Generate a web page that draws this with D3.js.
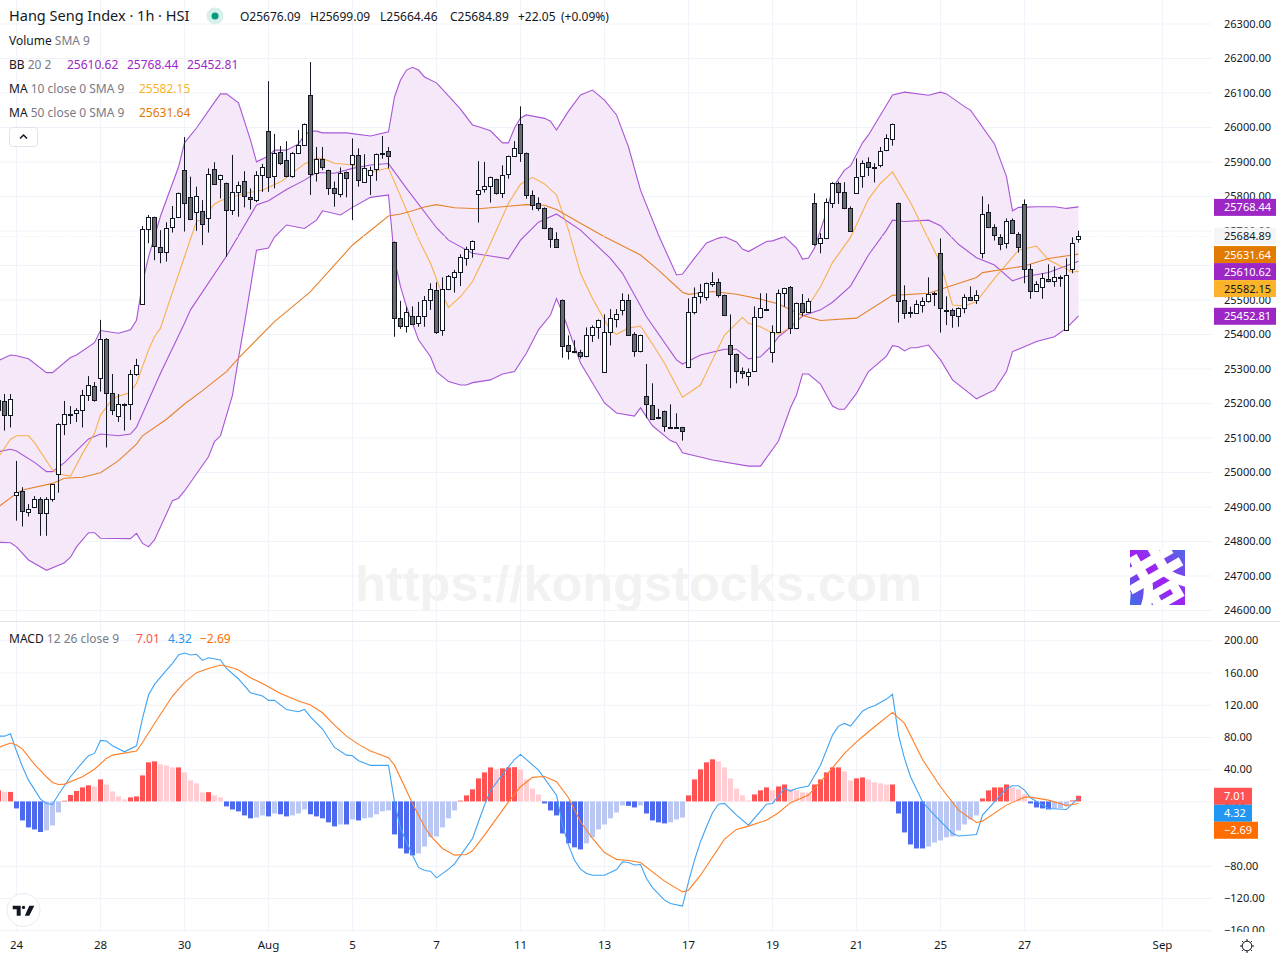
<!DOCTYPE html>
<html>
<head>
<meta charset="utf-8">
<title>Hang Seng Index 1h</title>
<script src="https://cdn.jsdelivr.net/npm/d3@7/dist/d3.min.js"></script>
<style>
  body { margin: 0; background: #fff; }
  svg { display: block; }
  text { font-family: "Noto Sans", sans-serif; }
  .grid line { stroke: #f0f3fa; stroke-width: 1; }
  .grid path { display: none; }
  .grid text { display: none; }
  .axis path, .axis line { display: none; }
  .axis text { fill: #131722; font-size: 11px; font-family: "Noto Sans", sans-serif; }
  .axis.time text { font-size: 11.5px; }
</style>
</head>
<body>
<svg id="chart" width="1280" height="960"></svg>

<script>
// candles, bar 0 is the "24" tick, first visible bar is -3
var firstBar = -3;
var opens = [
  25209,25205,25164,24932,24944,24883,24898,24921,24880,24921,
  24993,25138,25167,25170,25179,25222,25248,25272,25385,25228,
  25161,25198,25196,25283,25486,25703,25738,25651,25637,25709,
  25738,25874,25796,25753,25756,25735,25877,25848,25837,25758,
  25811,25843,25796,25787,25860,25987,25857,25927,25903,25857,
  25924,25947,26092,25866,25906,25874,25822,25805,25869,25892,
  25918,25842,25860,25877,25926,25929,25666,25445,25422,25451,
  25431,25451,25500,25527,25411,25529,25564,25579,25619,25645,
  25805,25819,25828,25848,25808,25863,25915,26009,25924,25802,
  25779,25764,25706,25674,25498,25367,25352,25347,25335,25396,
  25419,25289,25405,25443,25469,25500,25399,25350,25219,25193,
  25158,25176,25131,25131,25129,25303,25463,25509,25506,25544,
  25550,25512,25367,25341,25292,25277,25292,25448,25472,25347,
  25405,25518,25535,25416,25489,25463,25779,25663,25677,25779,
  25837,25811,25764,25808,25857,25898,25885,25889,25932,25964,
  25779,25500,25465,25460,25483,25495,25518,25634,25470,25469,
  25451,25474,25506,25498,25634,25753,25709,25680,25663,25729,
  25689,25776,25587,25524,25535,25558,25553,25566,25411,25587,
  25676.09];
var highs = [
  25217,25226,25226,25032,24956,24907,24930,24927,24927,24964,
  25141,25206,25191,25185,25238,25278,25261,25441,25388,25284,
  25226,25199,25296,25328,25713,25745,25740,25701,25724,25771,
  25810,25971,25856,25827,25788,25880,25898,25862,25839,25919,
  25842,25872,25822,25872,25893,26133,25980,25945,25959,25927,
  25991,26010,26188,25942,25942,25876,25842,25883,25871,25967,
  25938,25921,25885,25923,25974,25942,25668,25496,25479,25480,
  25493,25510,25547,25550,25564,25571,25586,25631,25653,25671,
  25901,25899,25856,25850,25889,25917,25959,26060,25926,25816,
  25796,25767,25709,25695,25500,25396,25382,25354,25419,25425,
  25442,25457,25472,25472,25518,25515,25405,25398,25313,25257,
  25183,25178,25196,25170,25131,25503,25535,25545,25549,25579,
  25561,25514,25457,25343,25303,25300,25480,25518,25518,25425,
  25529,25534,25539,25491,25516,25503,25808,25692,25793,25840,
  25842,25840,25770,25909,25903,25912,25895,25942,25979,26010,
  25781,25541,25479,25498,25506,25564,25522,25677,25509,25474,
  25477,25515,25538,25527,25799,25776,25718,25689,25735,25735,
  25695,25790,25602,25553,25576,25602,25596,25570,25619,25680,
  25699.09];
var lows = [
  25151,25120,25129,24859,24842,24871,24898,24815,24815,24914,
  24940,25107,25139,25145,25129,25206,25204,25233,25071,25165,
  25145,25120,25151,25279,25484,25663,25614,25605,25610,25694,
  25736,25697,25730,25699,25658,25694,25832,25793,25624,25745,
  25740,25767,25761,25782,25812,25812,25822,25890,25854,25853,
  25922,25945,25803,25842,25875,25803,25769,25796,25796,25730,
  25827,25840,25803,25844,25908,25880,25392,25415,25404,25426,
  25421,25421,25470,25400,25395,25527,25520,25539,25598,25621,
  25723,25810,25781,25804,25794,25850,25913,25899,25792,25759,
  25757,25704,25650,25650,25331,25326,25344,25329,25333,25377,
  25386,25287,25367,25419,25454,25394,25334,25347,25156,25151,
  25153,25117,25129,25129,25091,25301,25457,25488,25497,25537,
  25506,25452,25243,25257,25271,25250,25290,25445,25468,25317,
  25403,25479,25400,25414,25452,25461,25656,25634,25675,25765,
  25777,25762,25696,25806,25824,25858,25839,25883,25930,25946,
  25433,25444,25447,25458,25462,25491,25481,25404,25426,25418,
  25421,25460,25496,25487,25619,25707,25671,25643,25648,25690,
  25636,25547,25502,25522,25502,25550,25537,25537,25409,25576,
  25664.46];
var closes = [
  25180,25166,25211,24943,24886,24892,24921,24880,24921,24964,
  25138,25167,25168,25179,25222,25251,25208,25385,25228,25179,
  25196,25197,25283,25309,25703,25738,25656,25637,25706,25735,
  25808,25779,25732,25799,25718,25863,25834,25860,25758,25811,
  25831,25799,25791,25860,25883,25854,25924,25895,25857,25924,
  25947,26008,25863,25906,25883,25822,25808,25866,25851,25918,
  25845,25880,25874,25921,25925,25915,25445,25422,25463,25428,
  25451,25500,25529,25407,25529,25567,25579,25622,25645,25669,
  25816,25828,25854,25808,25860,25915,25938,25924,25802,25773,
  25764,25706,25674,25651,25364,25350,25351,25335,25396,25419,
  25440,25405,25445,25457,25500,25396,25350,25396,25196,25153,
  25157,25132,25130,25130,25118,25463,25506,25521,25547,25550,
  25512,25454,25341,25292,25286,25289,25448,25474,25471,25405,
  25518,25532,25416,25489,25463,25495,25660,25677,25784,25837,
  25813,25764,25698,25854,25895,25883,25884,25929,25967,26008,
  25495,25460,25464,25486,25495,25515,25517,25474,25469,25454,
  25474,25506,25498,25512,25747,25709,25686,25660,25727,25692,
  25651,25587,25524,25544,25561,25553,25564,25565,25570,25663,
  25684.89];

// indicator lines: [bar, value]
var bbUpper = [[-3,25323],[-1,25339],[0,25337],[2,25328],[5,25288],[6,25288],[9,25332],[10,25339],[13,25375],[14,25410],[17,25402],[19,25412],[20,25440],[21,25548],[22,25623],[24,25742],[27,25884],[28,25954],[30,25997],[33,26072],[34,26096],[35,26096],[37,26070],[39,25962],[40,25899],[42,25916],[43,25933],[45,25933],[47,25951],[48,25977],[49,25988],[50,25988],[51,25983],[55,25983],[59,25974],[62,25986],[63,26087],[64,26136],[65,26165],[66,26173],[67,26165],[68,26145],[70,26128],[72,26090],[74,26052],[76,26006],[77,26001],[79,25989],[81,25954],[82,25954],[83,25997],[84,26026],[85,26035],[88,26025],[89,26017],[90,25991],[92,26046],[94,26093],[96,26107],[98,26078],[100,26035],[102,25942],[104,25817],[107,25687],[110,25571],[111,25574],[113,25620],[115,25664],[117,25678],[118,25682],[120,25667],[121,25646],[122,25639],[125,25668],[126,25670],[128,25682],[130,25649],[131,25617],[132,25620],[133,25649],[135,25754],[136,25823],[138,25875],[139,25887],[141,25954],[142,25977],[146,26093],[148,26101],[152,26092],[154,26101],[155,26096],[158,26059],[159,26049],[163,25951],[165,25856],[166,25757],[167,25767],[170,25769],[173,25769],[175,25764],[177,25768.44]];
var bbLower = [[-3,24796],[-1,24795],[0,24783],[2,24745],[5,24715],[8,24737],[9,24753],[10,24783],[12,24824],[13,24824],[14,24808],[19,24807],[20,24822],[21,24793],[22,24783],[23,24803],[26,24917],[27,24924],[28,24945],[32,25044],[33,25088],[34,25105],[36,25223],[37,25330],[38,25431],[39,25536],[40,25643],[42,25649],[43,25681],[45,25716],[48,25706],[50,25730],[51,25757],[54,25745],[56,25767],[59,25796],[62,25803],[63,25615],[64,25537],[65,25479],[67,25383],[69,25334],[70,25291],[72,25262],[74,25252],[75,25252],[76,25259],[79,25267],[81,25284],[83,25291],[85,25345],[87,25412],[89,25455],[90,25503],[91,25461],[94,25316],[98,25200],[100,25171],[103,25162],[104,25186],[106,25134],[109,25091],[110,25084],[111,25056],[116,25035],[122,25017],[124,25017],[127,25090],[129,25186],[130,25223],[131,25284],[132,25284],[134,25255],[136,25191],[137,25182],[138,25182],[140,25228],[142,25291],[145,25336],[146,25366],[147,25363],[148,25351],[149,25360],[150,25360],[152,25368],[154,25325],[156,25267],[160,25212],[163,25238],[165,25291],[166,25349],[167,25356],[170,25378],[173,25392],[175,25417],[177,25452.81]];
var bbBasis = [[-3,25059],[-1,25066],[0,25061],[3,25028],[5,25001],[6,25001],[8,25027],[12,25096],[14,25110],[17,25105],[19,25110],[20,25130],[24,25286],[28,25431],[29,25470],[35,25626],[40,25774],[42,25786],[45,25819],[48,25846],[50,25868],[53,25866],[56,25880],[59,25890],[62,25894],[65,25822],[70,25708],[72,25672],[76,25634],[79,25626],[82,25618],[84,25672],[87,25724],[90,25748],[94,25701],[99,25619],[101,25576],[105,25450],[110,25325],[111,25313],[114,25339],[118,25356],[120,25356],[122,25328],[124,25334],[126,25368],[127,25392],[129,25419],[131,25452],[134,25470],[136,25492],[139,25539],[142,25629],[145,25701],[146,25730],[148,25726],[152,25730],[154,25714],[157,25660],[160,25621],[163,25600],[166,25554],[168,25566],[172,25578],[177,25610.62]];
var ma10 = [[-3,25044],[-1,25095],[0,25105],[2,25105],[3,25085],[6,25006],[7,24994],[9,24988],[11,25054],[13,25112],[14,25165],[16,25212],[17,25220],[19,25230],[20,25257],[22,25354],[23,25392],[24,25417],[25,25470],[28,25624],[30,25726],[31,25732],[33,25777],[34,25786],[36,25798],[39,25811],[41,25817],[44,25841],[47,25880],[48,25893],[50,25909],[51,25909],[53,25895],[56,25890],[59,25869],[62,25881],[65,25759],[67,25675],[69,25605],[71,25513],[72,25477],[74,25508],[76,25552],[78,25624],[82,25779],[84,25834],[86,25854],[88,25835],[90,25803],[92,25701],[94,25576],[96,25503],[99,25410],[100,25399],[102,25417],[104,25423],[106,25371],[108,25315],[111,25217],[114,25252],[116,25325],[118,25397],[121,25448],[122,25431],[124,25421],[126,25402],[127,25400],[129,25419],[131,25455],[134,25537],[136,25607],[139,25680],[142,25791],[144,25837],[146,25870],[149,25781],[151,25711],[154,25605],[156,25484],[158,25481],[160,25494],[163,25561],[167,25643],[170,25655],[172,25615],[176,25579],[177,25582.15]];
var ma50 = [[-3,24899],[0,24938],[1,24948],[6,24967],[8,24982],[11,24985],[14,24998],[17,25033],[20,25081],[21,25105],[25,25153],[28,25197],[31,25236],[35,25291],[37,25330],[43,25436],[49,25523],[56,25658],[62,25742],[64,25748],[66,25757],[68,25768],[70,25775],[73,25766],[77,25763],[81,25769],[85,25775],[88,25773],[90,25761],[94,25721],[98,25682],[104,25629],[107,25585],[111,25521],[112,25515],[116,25523],[120,25515],[124,25501],[127,25487],[131,25454],[134,25439],[140,25446],[146,25512],[152,25518],[160,25564],[161,25578],[168,25597],[172,25619],[177,25631.64]];

// macd pane
var macdHist = [
  13.7,11.6,11.8,-8.7,-23.6,-32.3,-34.8,-38,-36,-29.8,
  -13.7,0.8,8,13,17.4,20,18.6,27.3,21,12.4,
  6.2,2.5,5,6.2,32.3,48.5,49.7,46,44.7,42.2,
  42.2,36,26,22.4,11.2,11.5,7.5,5,-6.2,-10,
  -12.4,-17.4,-21,-20,-17.4,-18.6,-15,-16,-18.6,-17.4,
  -15,-10,-16,-18.6,-21,-26,-31,-28.6,-28.6,-22.4,
  -23.6,-21,-20,-16,-12.4,-11.2,-41,-58.4,-64.6,-67,
  -64.6,-56,-44.3,-43.5,-32.3,-21,-11.2,1,7.5,15,
  28.6,36,42.2,39.8,41,42.2,42.5,39.8,27.3,16,
  8.7,-2.5,-11.2,-17.4,-39.8,-52,-57,-59.6,-52,-44.7,
  -34.8,-28.6,-21,-13.7,-5,-5.5,-7.5,-5,-15,-23.6,
  -26,-27.3,-26,-22.4,-20,7.5,27.3,39.8,48.5,52.2,
  49.7,42.2,28.6,16,7.5,1.2,8.7,13.7,17.4,13.7,
  18.6,21,15,13.7,11.2,10.9,21,27.3,36,42.2,
  42.2,37.3,26,28.6,29.8,27.3,23.6,22.4,21,21,
  -15,-38.5,-53.4,-58.4,-58.4,-56,-51,-48.5,-44.7,-43.5,
  -36,-28.6,-22.4,-17.4,3.7,13.7,17.4,17.4,21,17.4,
  15,8.7,-2.5,-7.5,-8.7,-10,-8.7,-8.4,-6.2,1.2,
  7.01];
var macdLine = [[-3,81],[-2,81],[-1,84],[0,62.5],[1,43],[2,26.4],[4,2.8],[5,-2.5],[6,-3.8],[7,8.6],[9,30.6],[11,48.4],[12,56.7],[13,59.6],[14,75.7],[15,74.9],[16,69],[18,61.6],[20,69],[21,103],[22,132],[23,145.3],[25,163],[26,171.4],[27,181.7],[28,184.2],[29,181.7],[30,182.6],[31,175],[32,178.4],[34,175.5],[35,165],[37,152],[39,135],[41,130.8],[42,125.4],[43,125.4],[45,114],[47,111.3],[48,114.2],[49,105],[51,89.8],[53,67],[55,57.5],[56,56.7],[57,50.5],[59,44.7],[62,44.7],[63,-0.5],[64,-33.6],[65,-50.2],[66,-66.7],[67,-82],[68,-85.8],[69,-86.6],[70,-94.9],[72,-84],[73,-77.5],[76,-46],[77,-25.3],[78,-4.6],[79,13.2],[81,33.5],[83,52],[84,58.3],[87,38.9],[90,7.8],[91,-29.5],[92,-54.3],[93,-73],[94,-84],[95,-89.5],[96,-91.6],[98,-91.6],[100,-84.5],[101,-75],[102,-75.8],[103,-79],[104,-78.3],[105,-95.7],[106,-107],[108,-122.6],[109,-126.8],[111,-130],[112,-99.9],[113,-73],[114,-50],[115,-31.5],[116,-14.1],[117,-3.4],[118,-2.5],[120,-17],[122,-29.5],[125,-3.4],[126,-2.5],[128,16],[129,12.8],[130,16],[132,19],[134,45],[136,82.3],[137,93.5],[138,96.8],[139,93.5],[141,112],[142,116.3],[143,118.8],[145,127],[146,132.9],[147,82.3],[148,53.4],[149,30.6],[151,-0.5],[153,-17],[156,-39.8],[157,-43],[160,-41],[161,-17],[163,-0.5],[165,16],[166,19.4],[167,19.4],[168,14],[169,4.5],[172,-8.8],[175,-10],[177,4.32]];
var macdSignal = [[-3,67],[-1,72.4],[0,69.9],[1,65],[3,45.9],[5,30.6],[6,23.5],[7,21],[8,21.5],[11,30.6],[13,40],[15,53.4],[16,57.5],[20,62.5],[21,73.2],[23,96.8],[26,130.8],[28,147.8],[30,159.8],[32,165],[34,169.3],[36,166],[37,163],[39,153.6],[41,146.5],[44,134],[47,124.6],[49,119.6],[51,110],[53,94.8],[55,81],[57,70.8],[59,62.5],[62,54.2],[63,45],[66,-2.5],[68,-31.5],[69,-42.7],[71,-58.4],[73,-66.7],[75,-65.9],[76,-61.3],[78,-41.9],[82,-0.5],[84,18.2],[86,29.8],[88,31],[90,24.4],[92,4.5],[94,-25.3],[96,-46],[98,-63.4],[100,-72],[102,-73.4],[104,-75.8],[106,-87.4],[108,-99],[111,-112.3],[112,-110.2],[114,-91.6],[118,-46.9],[120,-34.8],[122,-30.7],[125,-23.3],[127,-14],[129,-1.6],[132,7.8],[135,32.7],[138,59.6],[140,74],[141,80.3],[143,92.7],[146,110.5],[148,96.8],[151,52],[154,18.2],[157,-10.8],[160,-26.1],[161,-24.5],[165,-4.6],[168,5.3],[169,5.3],[172,1.6],[175,-5],[177,-2.69]];

// axes
var priceTicks = d3.range(26300, 24500, -100);
var macdTicks = [200, 160, 120, 80, 40, 0, -80, -120, -160];
var timeBars = [0, 14, 28, 42, 56, 70, 84, 98, 112, 126, 140, 154, 168, 191];
var timeLabels = ['24', '28', '30', 'Aug', '5', '7', '11', '13', '17', '19', '21', '25', '27', 'Sep'];

// legend and price tags
var lastPrice = 25684.89;
var priceTags = [
  { v: 25768.44, bg: '#9c27c4', fg: '#fff' },
  { v: lastPrice, bg: '#f5f5f5', fg: '#131722' },
  { v: 25631.64, bg: '#e27a00', fg: '#fff' },
  { v: 25610.62, bg: '#9c27c4', fg: '#fff' },
  { v: 25582.15, bg: '#fbb429', fg: '#131722' },
  { v: 25452.81, bg: '#9c27c4', fg: '#fff' }
];
var macdTags = [
  { v: 7.01, bg: '#ff5252', fg: '#fff', w: 38 },
  { v: 4.32, bg: '#2196f3', fg: '#fff', w: 38 },
  { v: -2.69, bg: '#ff6d00', fg: '#fff', w: 44 }
];

var svg = d3.select('#chart');
var paneRight = 1212;

var x = d3.scaleLinear().domain([0, 191]).range([16.5, 1162.5]);
var y = d3.scaleLinear().domain([26300, 24600]).range([23.5, 610]);
var yM = d3.scaleLinear().domain([200, -160]).range([640.3, 930.3]);

var defs = svg.append('defs');
defs.append('clipPath').attr('id', 'clip-main').append('rect').attr('width', paneRight).attr('height', 621);
defs.append('clipPath').attr('id', 'clip-macd').append('rect').attr('y', 622).attr('width', paneRight).attr('height', 309);
defs.append('clipPath').attr('id', 'clip-maxis').append('rect').attr('x', paneRight).attr('y', 622).attr('width', 68).attr('height', 310);

// grid
svg.append('g').attr('class', 'grid')
  .attr('transform', 'translate(0,932)')
  .call(d3.axisBottom(x).offset(0).tickValues(timeBars).tickSize(-932).tickFormat(''));
svg.append('g').attr('class', 'grid')
  .call(d3.axisRight(y).tickValues(priceTicks).tickSize(paneRight).tickFormat(''));
svg.append('g').attr('class', 'grid')
  .call(d3.axisRight(yM).tickValues(macdTicks).tickSize(paneRight).tickFormat(''));

// pane divider
svg.append('line').attr('x1', 0).attr('x2', 1280).attr('y1', 621.5).attr('y2', 621.5).attr('stroke', '#e0e3eb');
svg.append('line').attr('x1', 0).attr('x2', paneRight).attr('y1', 930.5).attr('y2', 930.5).attr('stroke', '#f0f3fa');

// watermark
svg.append('text')
  .attr('x', 638.5).attr('y', 601)
  .attr('text-anchor', 'middle')
  .attr('fill', '#f2f2f3')
  .style('font-family', '"Liberation Sans", sans-serif')
  .style('font-weight', 'bold').style('font-size', '50.5px')
  .text('https://kongstocks.com');

// logo block
var logoGrad = defs.append('linearGradient').attr('id', 'logo-grad')
  .attr('x1', 0).attr('y1', 1).attr('x2', 1).attr('y2', 0);
logoGrad.append('stop').attr('offset', 0).attr('stop-color', '#3f6fe8');
logoGrad.append('stop').attr('offset', 0.5).attr('stop-color', '#a020f0');
logoGrad.append('stop').attr('offset', 1).attr('stop-color', '#4f6be8');
defs.append('clipPath').attr('id', 'clip-logo').append('rect').attr('x', 1130).attr('y', 550).attr('width', 55).attr('height', 55);
var logo = svg.append('g').attr('clip-path', 'url(#clip-logo)');
logo.append('rect').attr('x', 1130).attr('y', 550).attr('width', 55).attr('height', 55).attr('fill', 'url(#logo-grad)');
logo.append('text').attr('transform', 'translate(1168,618) rotate(-30)')
  .attr('text-anchor', 'middle').attr('fill', '#fff')
  .style('font-family', '"Noto Sans CJK SC"').style('font-weight', 'bold').style('font-size', '84px')
  .text('港');

// main pane
var main = svg.append('g').attr('clip-path', 'url(#clip-main)');
var line = d3.line().x(d => x(d[0])).y(d => y(d[1]));

main.append('path')
  .attr('d', line(bbUpper.concat(bbLower.slice().reverse())) + 'Z')
  .attr('fill', '#f4e8f9');

function addLine(g, data, gen, color) {
  g.append('path').attr('d', gen(data)).attr('fill', 'none').attr('stroke', color).attr('stroke-width', 1.1);
}
addLine(main, bbUpper, line, '#a855d6');
addLine(main, bbLower, line, '#a855d6');
addLine(main, bbBasis, line, '#a855d6');
addLine(main, ma10, line, '#f9b04a');
addLine(main, ma50, line, '#e6832a');

// last price dotted line
main.append('line')
  .attr('x1', 0).attr('x2', paneRight)
  .attr('y1', Math.round(y(lastPrice)) + 0.5).attr('y2', Math.round(y(lastPrice)) + 0.5)
  .attr('stroke', '#ececec').attr('stroke-dasharray', '1 2');

// candles
var bars = opens.map((o, k) => ({ i: firstBar + k, o: o, h: highs[k], l: lows[k], c: closes[k] }));
var candle = main.selectAll('g.candle').data(bars).enter().append('g').attr('class', 'candle');
candle.append('line')
  .attr('x1', d => x(d.i)).attr('x2', d => x(d.i))
  .attr('y1', d => y(d.h)).attr('y2', d => y(d.l))
  .attr('stroke', '#131722').attr('stroke-width', 1);
candle.append('rect')
  .attr('x', d => x(d.i) - 2)
  .attr('width', 4)
  .attr('y', d => Math.round(y(Math.max(d.o, d.c))) + 0.5)
  .attr('height', d => Math.max(Math.round(y(Math.min(d.o, d.c))) - Math.round(y(Math.max(d.o, d.c))), 1))
  .attr('fill', d => d.c >= d.o ? '#ffffff' : '#6a6a6a')
  .attr('stroke', '#131722').attr('stroke-width', 1);

// macd pane
var macdG = svg.append('g').attr('clip-path', 'url(#clip-macd)');
var lineM = d3.line().x(d => x(d[0])).y(d => yM(d[1]));

function histColor(v, prev) {
  if (v >= 0) return v >= prev ? '#ff5252' : '#ffcdd2';
  return v <= prev ? '#4d69ed' : '#bac7f3';
}
macdG.selectAll('rect').data(macdHist).enter().append('rect')
  .attr('x', (d, k) => x(firstBar + k) - 2.5)
  .attr('width', 5)
  .attr('y', d => Math.min(yM(d), yM(0)))
  .attr('height', d => Math.abs(yM(d) - yM(0)))
  .attr('fill', (d, k) => histColor(d, k ? macdHist[k - 1] : d - 1));

addLine(macdG, macdLine, lineM, '#3fa3f4');
addLine(macdG, macdSignal, lineM, '#ff7f26');

// price axis
svg.append('g').attr('class', 'axis')
  .attr('transform', 'translate(' + paneRight + ',0)')
  .call(d3.axisRight(y).tickValues(priceTicks).tickSize(0).tickPadding(12).tickFormat(d3.format('.2f')));

svg.append('g').attr('clip-path', 'url(#clip-maxis)').append('g').attr('class', 'axis')
  .attr('transform', 'translate(' + paneRight + ',0)')
  .call(d3.axisRight(yM).tickValues(macdTicks).tickSize(0).tickPadding(12).tickFormat(d3.format('.2f')));

// time axis
svg.append('g').attr('class', 'axis time')
  .attr('transform', 'translate(0,932)')
  .call(d3.axisBottom(x).offset(0).tickValues(timeBars).tickSize(0).tickPadding(9)
    .tickFormat((d, k) => timeLabels[k]));

// value tags, pushed down when they would overlap
function addTags(tags, scale, h) {
  var last = -100;
  tags.forEach(function (t) {
    var cy = Math.max(scale(t.v) + 0.5, last + h);
    last = cy;
    var g = svg.append('g');
    g.append('rect')
      .attr('x', paneRight + 2).attr('y', cy - h / 2)
      .attr('width', t.w || 62).attr('height', h)
      .attr('fill', t.bg);
    g.append('text')
      .attr('x', paneRight + 12).attr('y', cy + 4)
      .attr('fill', t.fg).style('font-size', '11px')
      .text(d3.format('.2f')(t.v));
  });
}
addTags(priceTags, y, 17);
addTags(macdTags, yM, 17);

// legend
function legendRow(py, parts) {
  var t = svg.append('text').attr('y', py).attr('x', 9).style('font-size', '12px');
  parts.forEach(function (p) {
    var s = t.append('tspan').attr('fill', p[1]).text(p[0]);
    if (p[2]) s.attr('x', p[2]);
  });
}
var ink = '#131722', soft = '#787b86';

svg.append('text').attr('x', 9).attr('y', 21).attr('fill', ink).style('font-size', '14.5px')
  .text('Hang Seng Index · 1h · HSI');
svg.append('circle').attr('cx', 215).attr('cy', 16).attr('r', 8.5).attr('fill', '#d8efec');
svg.append('circle').attr('cx', 215).attr('cy', 16).attr('r', 3.5).attr('fill', '#089981');
legendRow(21, [['O25676.09', ink, 240], ['H25699.09', ink, 310], ['L25664.46', ink, 380], ['C25684.89', ink, 450], ['+22.05', ink, 518], ['(+0.09%)', ink, 561]]);

legendRow(45, [['Volume ', ink], ['SMA 9', soft]]);
legendRow(69, [['BB ', ink], ['20 2', soft], ['25610.62', '#9c27c4', 67], ['25768.44', '#9c27c4', 127], ['25452.81', '#9c27c4', 187]]);
legendRow(93, [['MA ', ink], ['10 close 0 SMA 9', soft], ['25582.15', '#fbb429', 139]]);
legendRow(117, [['MA ', ink], ['50 close 0 SMA 9', soft], ['25631.64', '#e27a00', 139]]);
legendRow(643, [['MACD ', ink], ['12 26 close 9', soft], ['7.01', '#ff5252', 136], ['4.32', '#2196f3', 168], ['\u22122.69', '#ff6d00', 200]]);

// collapse button
svg.append('rect').attr('x', 9.5).attr('y', 127.5).attr('width', 28).attr('height', 19).attr('rx', 3)
  .attr('fill', '#fff').attr('stroke', '#e0e3eb');
svg.append('path').attr('d', 'M20 138.5l3.5-3.5 3.5 3.5').attr('fill', 'none').attr('stroke', ink).attr('stroke-width', 1.5);

// tradingview badge
svg.append('circle').attr('cx', 23.5).attr('cy', 910).attr('r', 16.5).attr('fill', '#fff').attr('stroke', '#e8eaef');
svg.append('path').attr('d', 'M12.7 905.7h8v10h-4v-6.5h-4zM29.3 905.7h5l-5 10h-4.5z').attr('fill', ink);
svg.append('circle').attr('cx', 23.5).attr('cy', 907.4).attr('r', 1.7).attr('fill', ink);

// settings gear
var gear = svg.append('g').attr('transform', 'translate(1247,946)');
gear.append('circle').attr('r', 4.8).attr('fill', 'none').attr('stroke', ink);
d3.range(8).forEach(function (k) {
  var a = k * Math.PI / 4;
  gear.append('line')
    .attr('x1', 4.8 * Math.cos(a)).attr('y1', 4.8 * Math.sin(a))
    .attr('x2', 7 * Math.cos(a)).attr('y2', 7 * Math.sin(a))
    .attr('stroke', ink);
});
</script>
</body>
</html>
